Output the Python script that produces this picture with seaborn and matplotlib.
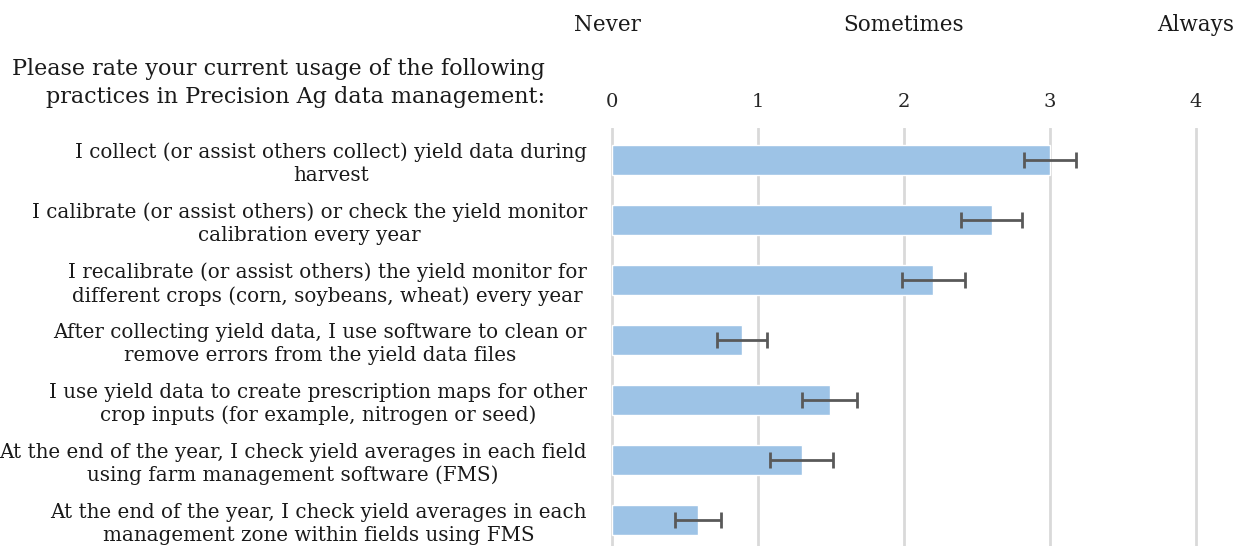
import matplotlib
matplotlib.use("Agg")
import matplotlib.pyplot as plt
import seaborn as sns
import pandas as pd

categories = [
    "I collect (or assist others collect) yield data during\nharvest",
    "I calibrate (or assist others) or check the yield monitor\ncalibration every year",
    "I recalibrate (or assist others) the yield monitor for\ndifferent crops (corn, soybeans, wheat) every year",
    "After collecting yield data, I use software to clean or\nremove errors from the yield data files",
    "I use yield data to create prescription maps for other\ncrop inputs (for example, nitrogen or seed)",
    "At the end of the year, I check yield averages in each field\nusing farm management software (FMS)",
    "At the end of the year, I check yield averages in each\nmanagement zone within fields using FMS",
]
means = [3.0, 2.6, 2.2, 0.89, 1.49, 1.30, 0.59]
errors = [0.175, 0.21, 0.215, 0.17, 0.19, 0.215, 0.16]
tick_values = [0, 1, 2, 3, 4]
scale_labels = ["Never", "Sometimes", "Always"]
scale_positions = [0, 2, 4]
title = "Please rate your current usage of the following\npractices in Precision Ag data management:"

df = pd.DataFrame({"practice": categories, "mean": means, "err": errors})

sns.set_theme(style="white")
plt.rcParams["font.family"] = ["DejaVu Serif"]

W, H = 1246, 546
fig = plt.figure(figsize=(W / 100, H / 100), dpi=100)
ax = fig.add_axes([610.5 / W, 0.0, (1197.5 - 610.5) / W, 1 - 128 / H])

sns.barplot(data=df, x="mean", y="practice", order=categories, orient="h",
            color="#9dc3e6", saturation=1, width=0.5, errorbar=None, ax=ax)
ax.errorbar(df["mean"], range(len(categories)), xerr=df["err"], fmt="none",
            ecolor="#595959", elinewidth=2, capsize=6, capthick=2)

ax.set_xlim(-0.01, 4.01)
ax.set_ylim(6.43, -0.53)
ax.set_xticks(tick_values)
ax.xaxis.tick_top()
ax.tick_params(axis="x", length=0, pad=12, labelsize=14, colors="#262626")
ax.tick_params(axis="y", length=0, pad=17, labelsize=14.3, colors="#1a1a1a")
for lbl in ax.get_yticklabels():
    lbl.set_multialignment("center")
    lbl.set_linespacing(1.25)
ax.grid(axis="x", color="#d9d9d9", linewidth=2)
ax.set_axisbelow(True)
for s in ax.spines.values():
    s.set_visible(False)
ax.set_xlabel("")
ax.set_ylabel("")

for lab, pos in zip(scale_labels, scale_positions):
    x_disp = ax.transData.transform((pos, 0))[0]
    fig.text(x_disp / W - (5 / W if pos == 0 else 0), 1 - 25 / H, lab,
             ha="center", va="center", fontsize=15.5, color="#1a1a1a")

fig.text(545 / W, 1 - 83 / H, title, ha="right", va="center", fontsize=16,
         color="#1a1a1a", multialignment="right", linespacing=1.35)

fig.savefig("out.png", dpi=100, facecolor="white")
